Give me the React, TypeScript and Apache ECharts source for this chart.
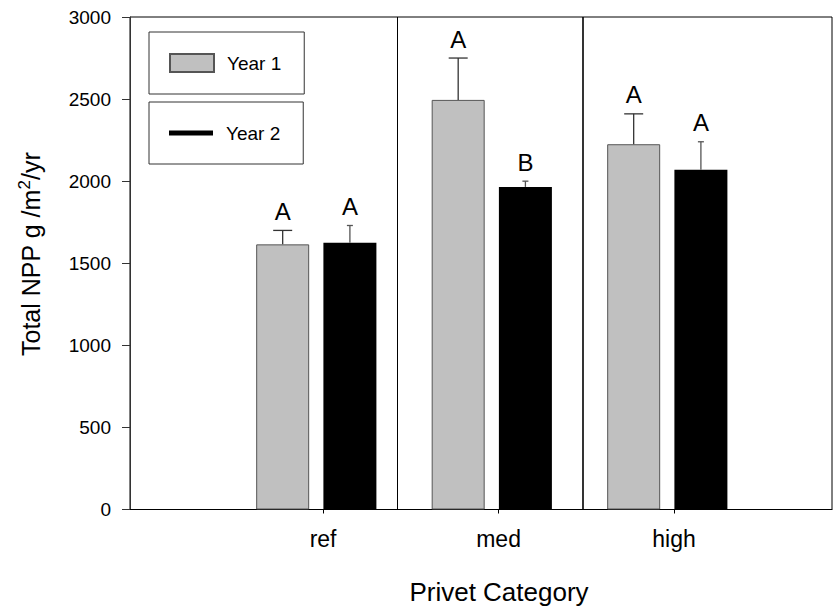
import React, { useEffect, useRef } from "react";
import * as echarts from "echarts";

const FONT = "'Liberation Sans', Arial, Helvetica, sans-serif";

// Data
const categories = ["ref", "med", "high"];
const year1Mean = [1615, 2495, 2225];
const year1Upper = [1700, 2750, 2410];
const year2Mean = [1625, 1965, 2070];
const year2Upper = [1730, 2000, 2240];
const year1Letters = ["A", "A", "A"];
const year2Letters = ["A", "B", "A"];
const yTickMin = 0;
const yTickMax = 3000;
const yTickStep = 500;

// Layout constants (positions on the x value axis, category i sits at i + 1)
const Y1_OFF = -0.23;
const Y2_OFF = 0.153;
const SEPARATORS = [1.42, 2.48];

function errorRenderer(letters: string[], capHalf: number, color: string) {
  return (params: any, api: any) => {
    const x = api.value(0);
    const mean = api.value(1);
    const up = api.value(2);
    const p0 = api.coord([x, mean]);
    const p1 = api.coord([x, up]);
    return {
      type: "group",
      children: [
        {
          type: "line",
          shape: { x1: p0[0], y1: p0[1], x2: p1[0], y2: p1[1] },
          style: { stroke: color, lineWidth: 1.3 },
        },
        {
          type: "line",
          shape: { x1: p1[0] - capHalf, y1: p1[1], x2: p1[0] + capHalf, y2: p1[1] },
          style: { stroke: color, lineWidth: 1.3 },
        },
        {
          type: "text",
          x: p1[0],
          y: p1[1] - 7,
          style: {
            text: letters[params.dataIndex],
            fontSize: 24,
            fontFamily: FONT,
            fill: "#000",
            align: "center",
            verticalAlign: "bottom",
          },
        },
      ],
    };
  };
}

export default function App() {
  const ref = useRef<HTMLDivElement>(null);

  useEffect(() => {
    if (!ref.current) return;
    const chart = echarts.init(ref.current, undefined, { renderer: "svg" });

    const y1Bars = year1Mean.map((v, i) => [i + 1 + Y1_OFF, v]);
    const y2Bars = year2Mean.map((v, i) => [i + 1 + Y2_OFF, v]);
    const y1Err = year1Mean.map((v, i) => [i + 1 + Y1_OFF, v, year1Upper[i]]);
    const y2Err = year2Mean.map((v, i) => [i + 1 + Y2_OFF, v, year2Upper[i]]);
    const catTicks = categories.map((_, i) => i + 1);

    const legendCommon = {
      left: 149,
      orient: "horizontal",
      itemWidth: 44,
      icon: "rect",
      padding: [21, 23, 21, 20],
      borderColor: "#333",
      borderWidth: 1,
      selectedMode: false,
      textStyle: {
        fontSize: 19,
        fontFamily: FONT,
        color: "#000",
        lineHeight: 20,
        padding: [0, 0, 0, 8],
      },
    };

    chart.setOption({
      animation: false,
      backgroundColor: "#fff",
      grid: {
        left: 130,
        right: 6,
        top: 17,
        bottom: 99.5,
        show: true,
        borderColor: "#000",
        borderWidth: 1,
        outerBoundsMode: "none",
      },
      legend: [
        { ...legendCommon, data: ["Year 1"], top: 32, itemHeight: 18 },
        { ...legendCommon, data: ["Year 2"], top: 102, itemHeight: 5 },
      ],
      xAxis: {
        type: "value",
        min: -0.1,
        max: 3.9,
        splitLine: { show: false },
        axisLine: { show: true, onZero: false, lineStyle: { color: "#000", width: 1 } },
        axisTick: {
          show: true,
          customValues: catTicks,
          length: 4,
          lineStyle: { color: "#000" },
        },
        axisLabel: {
          customValues: catTicks,
          formatter: (v: number) => categories[Math.round(v) - 1] ?? "",
          fontSize: 23,
          fontFamily: FONT,
          color: "#000",
          margin: 18,
        },
        name: "Privet Category",
        nameLocation: "middle",
        nameGap: 69,
        nameTextStyle: {
          fontSize: 26,
          fontFamily: FONT,
          color: "#000",
          padding: [0, 0, 0, 36],
        },
      },
      yAxis: {
        type: "value",
        min: yTickMin,
        max: yTickMax,
        interval: yTickStep,
        splitLine: { show: false },
        axisLine: { show: true, onZero: false, lineStyle: { color: "#333", width: 1 } },
        axisTick: { show: true, length: 8, lineStyle: { color: "#333" } },
        axisLabel: {
          fontSize: 19,
          fontFamily: FONT,
          color: "#000",
          margin: 19,
          formatter: (v: number) => String(v),
        },
        name: "{a|Total NPP g /m}{s|2}{a|/yr}",
        nameLocation: "middle",
        nameRotate: 90,
        nameGap: 84,
        nameTextStyle: {
          fontSize: 25,
          fontFamily: FONT,
          color: "#000",
          padding: [0, 0, 0, 18],
          rich: {
            a: { fontSize: 25, fontFamily: FONT, color: "#000", lineHeight: 30 },
            s: {
              fontSize: 17,
              fontFamily: FONT,
              color: "#000",
              lineHeight: 16,
              verticalAlign: "top",
            },
          },
        },
      },
      series: [
        {
          name: "Year 1",
          type: "bar",
          data: y1Bars,
          barWidth: 53,
          barGap: "-100%",
          itemStyle: { color: "#c0c0c0", borderColor: "#555", borderWidth: 1 },
          markLine: {
            silent: true,
            symbol: "none",
            label: { show: false },
            data: SEPARATORS.map((s, i) => ({
              xAxis: s,
              lineStyle: { color: "#000", width: i === 0 ? 1 : 1.6, type: "solid" },
            })),
          },
          z: 2,
        },
        {
          name: "Year 2",
          type: "bar",
          data: y2Bars,
          barWidth: 53,
          barGap: "-100%",
          itemStyle: { color: "#000" },
          z: 2,
        },
        {
          name: "err1",
          type: "custom",
          data: y1Err,
          renderItem: errorRenderer(year1Letters, 9.5, "#333"),
          z: 3,
        },
        {
          name: "err2",
          type: "custom",
          data: y2Err,
          renderItem: errorRenderer(year2Letters, 3, "#555"),
          z: 3,
        },
      ],
    });

    return () => chart.dispose();
  }, []);

  return (
    <div
      ref={ref}
      style={{ position: "absolute", left: 0, top: 0, width: 838, height: 609 }}
    />
  );
}
